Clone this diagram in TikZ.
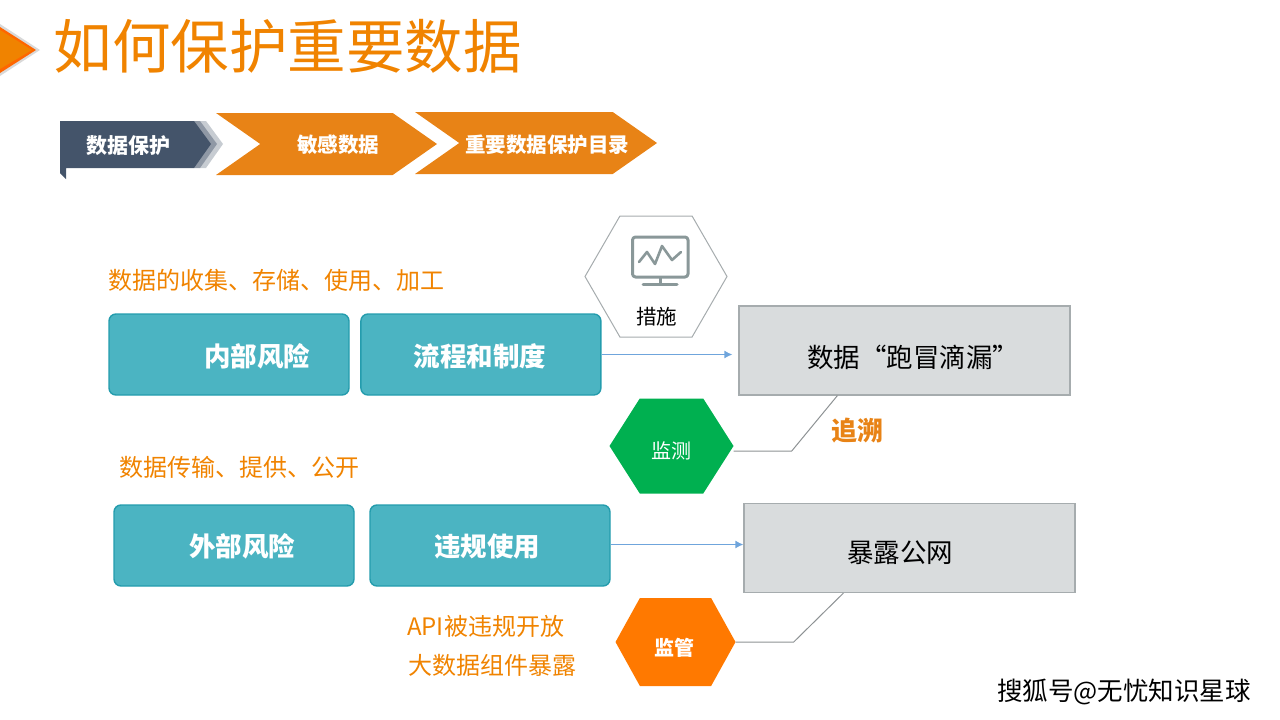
\documentclass[tikz,border=0pt]{standalone}
\usepackage{fontspec}
\setmainfont{Noto Sans CJK SC}
\usetikzlibrary{shapes.symbols, arrows.meta, positioning}

\definecolor{titleorange}{HTML}{F08300}
\definecolor{chevorange}{HTML}{E88316}
\definecolor{tabdark}{HTML}{44546A}
\definecolor{tealfill}{HTML}{4BB4C2}
\definecolor{tealline}{HTML}{249CAD}
\definecolor{boxfill}{HTML}{D9DCDD}
\definecolor{boxline}{HTML}{A6ACAE}
\definecolor{flowblue}{HTML}{6FA5DC}
\definecolor{hexgreen}{HTML}{00B050}
\definecolor{hexorange}{HTML}{FF7900}
\definecolor{icongray}{HTML}{8A9899}

% texto centrado y desplazado sin cambiar la caja del nodo
\newcommand{\offtext}[3]{\makebox[0pt]{\hspace*{#1}\raisebox{\dimexpr-0.38em+#2\relax}[0pt][0pt]{#3}}}

\begin{document}
\begin{tikzpicture}[
		x=1pt, y=-1pt,
		% --- bloques ---
		block_risk/.style = {draw=tealline, fill=tealfill, rectangle, minimum height=81pt, minimum width=240pt, align=center, rounded corners=7pt, line width=1.4pt, text=white, font=\fontsize{26.5}{30}\selectfont\bfseries},
		block_result/.style = {draw=boxline, fill=boxfill, rectangle, minimum height=89pt, minimum width=331pt, align=center, line width=1.2pt, text=black, font=\fontsize{26.5}{30}\selectfont},
		chevron/.style = {signal, signal from=west, signal to=east, signal pointer angle=70, fill=chevorange, text=white, inner sep=0pt, minimum height=62pt, font=\fontsize{20.5}{24}\selectfont\bfseries},
		hexa/.style = {signal, signal from=west and east, signal to=west and east, inner sep=0pt},
		% --- textos sueltos ---
		note/.style = {text=titleorange, inner sep=0pt, font=\fontsize{24}{28}\selectfont},
		flow/.style = {-{Latex[length=8pt,width=8pt]}, flowblue, line width=1.3pt, shorten >=6pt},
		elbow/.style = {draw=boxline!85!black, line width=1pt},
		>={Latex}
		]
		\useasboundingbox (0,0) rectangle (1280,720);
		
		% =========================================================================
		% 1. TITULO Y BANDA SUPERIOR
		% =========================================================================
		\fill [gray!30] (0,24) -- (40,50) -- (0,76) -- cycle;
		\fill [orange!80!red] (0,27) -- (36,50) -- (0,73) -- cycle;
		\fill [titleorange] (0,30) -- (32,50) -- (0,69) -- cycle;
		\node [anchor=west, inner sep=0pt, text=titleorange, font=\fontsize{58.5}{64}\selectfont] (title) at (53.5,46) {如何保护重要数据};
		
		% pestana oscura con sus dos sombras
		\fill [tabdark!30] (200,121) -- (206,121) -- (223,144) -- (206,168) -- (200,168) -- cycle;
		\fill [tabdark!60] (194,121) -- (200,121) -- (217,144) -- (200,168) -- (194,168) -- cycle;
		\fill [tabdark] (60,121) -- (194,121) -- (211,144) -- (194,168) -- (66,168) -- (66,179) -- (60,173) -- cycle;
		\node [text=white, inner sep=0pt, font=\fontsize{21}{24}\selectfont\bfseries] (tab) at (128,146) {数据保护};
		
		\node [chevron, minimum width=221pt] (sensitive) at (326.5,144) {\offtext{23pt}{-0.5pt}{敏感数据}};
		\node [chevron, minimum width=242pt] (catalog) at (536,143) {\offtext{22pt}{-2pt}{重要数据保护目录}};
		
		% =========================================================================
		% 2. BLOQUES PRINCIPALES
		% =========================================================================
		\node [note, anchor=west] (inner_note) at (108,280) {数据的收集、存储、使用、加工};
		\node [block_risk] (inner) at (229,354.5) {\offtext{56pt}{-1.5pt}{内部风险}};
		\node [block_risk, right=10.5pt of inner] (process) {\offtext{-2pt}{-1.5pt}{流程和制度}};
		\node [block_result] (leak) at (904.5,350.5) {\offtext{17pt}{-6.5pt}{数据“跑冒滴漏”}};
		
		\node [note, anchor=west] (outer_note) at (119.5,467) {数据传输、提供、公开};
		\node [block_risk] (outer) at (234,545.5) {\offtext{16pt}{-0.5pt}{外部风险}};
		\node [block_risk] (misuse) at (490,545.5) {\offtext{-6pt}{-0.5pt}{违规使用}};
		\node [block_result] (expose) at (909.5,548) {\offtext{-19pt}{-4pt}{暴露公网}};
		
		\node [note, anchor=west] (api_note) at (407,626) {API被违规开放};
		\node [note, anchor=west] (big_note) at (408,665) {大数据组件暴露};
		
		% =========================================================================
		% 3. HEXAGONOS
		% =========================================================================
		\node [hexa, draw=boxline, fill=white, line width=1pt, signal pointer angle=120, minimum width=142pt, minimum height=121pt] (measure) at (656,276.5) {};
		\node [inner sep=0pt, font=\fontsize{20.5}{24}\selectfont] (measure_text) at (656.5,317) {措施};
		\begin{scope}[draw=icongray, line width=3pt, line join=round, line cap=round]
			\draw [rounded corners=3pt] (632.5,237) rectangle (688,277);
			\draw [line width=2.6pt] (639,262) -- (647,252) -- (655,264) -- (662,246) -- (672,260) -- (681,252);
			\draw (660,278) -- (660,284);
			\draw (643,284.5) -- (677,284.5);
		\end{scope}
		
		\node [hexa, fill=hexgreen, signal pointer angle=115, minimum width=124pt, minimum height=95pt, text=white, font=\fontsize{20}{24}\selectfont] (monitor) at (671.5,446) {\offtext{0pt}{-5pt}{监测}};
		\node [hexa, fill=hexorange, signal pointer angle=122, minimum width=120pt, minimum height=88pt, text=white, font=\fontsize{20}{24}\selectfont\bfseries] (regulate) at (675.5,642) {\offtext{-3pt}{-6pt}{监管}};
		
		\node [inner sep=0pt, text=chevorange, font=\fontsize{26}{30}\selectfont\bfseries] (trace) at (857,431) {追溯};
		
		% =========================================================================
		% 4. FLUJOS
		% =========================================================================
		\draw [flow] (process.east) -- (process.east -| leak.west);
		\draw [flow, shorten >=0pt] ([yshift=1pt]misuse.east) -- ([yshift=1pt]misuse.east -| expose.west);
		
		\coordinate (leak_bend) at ([xshift=99pt]leak.south west);
		\coordinate (expose_bend) at ([xshift=100pt]expose.south west);
		\draw [elbow] ([yshift=-5pt]monitor.east) -- ++(58,0) -- (leak_bend);
		\draw [elbow] (regulate.east) -- ++(58,0) -- (expose_bend);
		
		% marca de agua
		\node [inner sep=0pt, anchor=east, text=black, font=\fontsize{25.5}{28}\selectfont] (mark) at (1251,692) {搜狐号@无忧知识星球};
		
	\end{tikzpicture}
\end{document}
